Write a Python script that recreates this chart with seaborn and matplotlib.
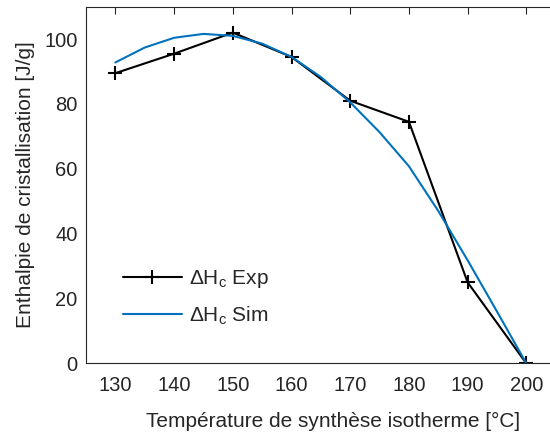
import pandas as pd
import seaborn as sns
import matplotlib.pyplot as plt

# Experimental crystallisation enthalpy
temp_exp = [130, 140, 150, 160, 170, 180, 190, 200]
dh_exp = [89.5, 95.5, 102.0, 94.5, 81.0, 74.5, 25.0, 0.0]

# Simulated curve (every 5 degC)
temp_sim = [130, 135, 140, 145, 150, 155, 160, 165, 170, 175, 180, 185, 190, 195, 200]
dh_sim = [92.8, 97.4, 100.4, 101.6, 101.0, 98.6, 94.5, 88.3, 80.5, 71.3, 60.8, 47.0, 31.8, 16.0, 0.0]

x_ticks = [130, 140, 150, 160, 170, 180, 190, 200]
y_ticks = [0, 20, 40, 60, 80, 100]

sns.set_theme(style='white')
plt.rcParams['font.family'] = ['Liberation Sans', 'DejaVu Sans']
plt.rcParams['mathtext.fontset'] = 'custom'
plt.rcParams['mathtext.rm'] = 'Liberation Sans'
plt.rcParams['xtick.direction'] = 'in'
plt.rcParams['ytick.direction'] = 'in'

df_exp = pd.DataFrame({'T': temp_exp, 'dH': dh_exp})
df_sim = pd.DataFrame({'T': temp_sim, 'dH': dh_sim})

fig = plt.figure(figsize=(5.5, 4.32), dpi=100)
ax = fig.add_axes([0.1564, 0.1586, 0.854, 0.826])

sns.lineplot(data=df_exp, x='T', y='dH', ax=ax, color='black', marker='+',
             markersize=10, markeredgewidth=1.5, markeredgecolor='black', linewidth=1.5,
             label=r'$\mathregular{\Delta H_c}$ Exp')
sns.lineplot(data=df_sim, x='T', y='dH', ax=ax, color='#0072BD', linewidth=1.5,
             label=r'$\mathregular{\Delta H_c}$ Sim')

ax.set_xlim(125, 205)
ax.set_ylim(0, 110)
ax.set_xticks(x_ticks)
ax.set_yticks(y_ticks)
ax.tick_params(axis='both', labelsize=14.5, colors='#262626', length=5, width=0.8,
               top=True, right=False)
ax.tick_params(axis='x', pad=9)
ax.tick_params(axis='y', pad=6)
ax.spines['right'].set_visible(False)
for s in ax.spines.values():
    s.set_color('#262626')
    s.set_linewidth(0.8)

ax.set_xlabel('Température de synthèse isotherme [°C]', fontsize=15, color='#262626')
ax.set_ylabel('Enthalpie de cristallisation [J/g]', fontsize=15, color='#262626', labelpad=7)
ax.xaxis.set_label_coords(0.526, -0.135)

ax.legend(loc='lower left', bbox_to_anchor=(0.038, 0.05), frameon=False, fontsize=15,
          handlelength=2.85, labelspacing=0.7, handletextpad=0.32)

fig.savefig('out.png', dpi=100)
